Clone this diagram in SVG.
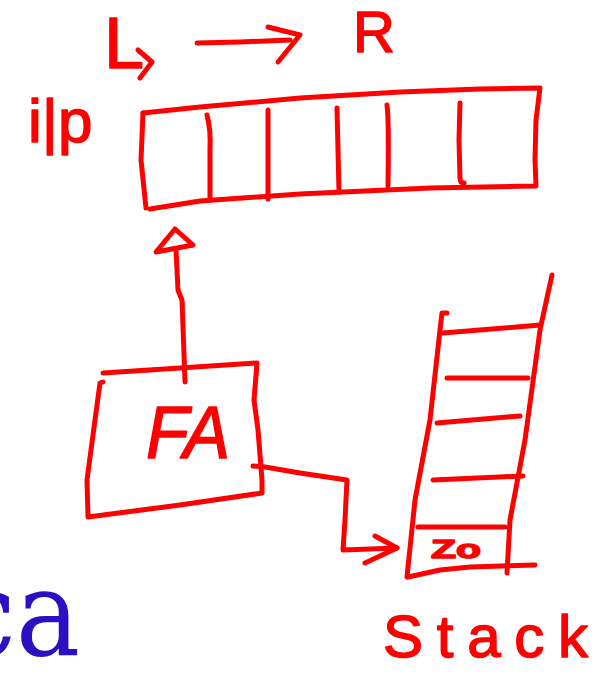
<svg xmlns="http://www.w3.org/2000/svg" width="615" height="684" viewBox="0 0 615 684">
  <style>
    .ink { fill: none; stroke: #ff0000; stroke-width: 5; stroke-linecap: round; stroke-linejoin: round; }
    .hand { fill: #ff0000; stroke: #ff0000; stroke-width: 1.5; stroke-linejoin: round; font-family: "Liberation Sans", Arial, sans-serif; }
    .print { fill: #2a10c0; font-family: "DejaVu Serif Condensed", "DejaVu Serif", serif; font-stretch: condensed; }
  </style>
  <rect width="615" height="684" fill="#ffffff"/>

  <!-- direction heading: L -> R -->
  <g id="direction">
    <text class="hand" x="104" y="68" font-size="72">L</text>
    <path class="ink" d="M138,50 L152,62 L140,78"/>
    <path class="ink" d="M197,43 L240,42 L290,40"/>
    <path class="ink" d="M268,27 L300,35 L278,62"/>
    <text class="hand" x="353" y="52" font-size="58">R</text>
  </g>

  <!-- input tape -->
  <g id="input-tape">
    <text class="hand" x="28" y="142" font-size="62">i|p</text>
    <path class="ink" d="M143,113 L200,107 L300,98 L400,92 L480,89 L540,88 L536,120 L535,160 L536,186 L430,188 L300,194 L200,201 L150,209"/>
    <path class="ink" d="M143,113 L141,160 L146,208"/>
    <path class="ink" d="M207,115 Q211,130 210,150 L210,200"/>
    <path class="ink" d="M268,110 L268,199"/>
    <path class="ink" d="M337,108 L339,192"/>
    <path class="ink" d="M387,105 Q389,120 388,186"/>
    <path class="ink" d="M460,103 L459,140 L460,178 Q460,183 464,183"/>
  </g>

  <!-- finite automaton -->
  <g id="fa">
    <path class="ink" d="M103,373 L180,368 L257,363 L254,400 L258,430 L262,480 L262,492"/>
    <path class="ink" d="M262,493 L180,505 L88,517 L87,480 L95,420 L100,383 L103,382"/>
    <text class="hand" x="146" y="458" font-size="74" font-style="italic" textLength="84" lengthAdjust="spacingAndGlyphs">FA</text>
  </g>

  <!-- stack -->
  <g id="stack">
    <path class="ink" d="M442,313 L447,313 M442,313 L440,330 L430,420 L415,500 L407,577"/>
    <path class="ink" d="M552,275 L540,330 L525,440 L510,520 L507,573"/>
    <path class="ink" d="M408,577 L440,570 L470,567 L535,565"/>
    <path class="ink" d="M443,333 L540,325"/>
    <path class="ink" d="M447,378 L528,378"/>
    <path class="ink" d="M437,423 L520,416"/>
    <path class="ink" d="M433,480 L523,476"/>
    <path class="ink" d="M418,527 L505,527"/>
    <text class="hand" x="431" y="558" font-size="26" font-weight="bold" textLength="50" lengthAdjust="spacingAndGlyphs">Zo</text>
    <text class="hand" x="383" y="657" font-size="60" textLength="205" lengthAdjust="spacing">Stack</text>
  </g>

  <!-- connectors -->
  <g id="connectors">
    <path class="ink" d="M185,382 L182,300 L178,290 L176,250"/>
    <path class="ink" d="M156,252 L175,229 L193,245 Z" fill="#ff0000"/>
    <path class="ink" d="M253,466 L265,467 L300,473 L347,480 L345,520 L343,550 L397,548"/>
    <path class="ink" d="M375,536 L397,548 L365,563"/>
  </g>

  <!-- printed fragment at lower left -->
  <g id="caption">
    <text class="print" x="80" y="655" font-size="120" text-anchor="end">ca</text>
  </g>
</svg>
